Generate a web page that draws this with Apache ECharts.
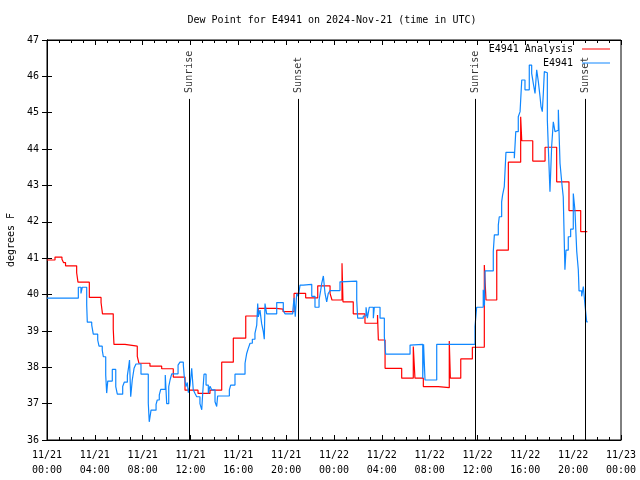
<!DOCTYPE html>
<html>
<head>
<meta charset="utf-8">
<script src="https://cdn.jsdelivr.net/npm/echarts@6/dist/echarts.min.js"></script>
<style>
html,body{margin:0;padding:0;background:#fff;}
#chart{width:640px;height:480px;}
</style>
</head>
<body>
<div id="chart"></div>
<script>
// Time in hours since 2024-11-21 00:00 UTC, value in degrees F
var analysisData = [
  [0.00,40.95],[0.67,41.03],[1.25,40.97],[1.38,40.88],[1.55,40.79],[2.48,40.6],[2.59,40.34],
  [3.54,39.92],[4.52,39.78],[4.64,39.47],[5.54,39.05],[5.60,38.63],[6.52,38.58],[7.55,38.3],
  [7.69,38.11],[8.61,38.03],[9.59,37.96],[10.56,37.73],[11.54,37.37],[12.63,37.28],[13.63,37.37],
  [14.61,38.14],[15.58,38.8],[16.62,39.41],[17.67,39.62],[19.15,39.6],[19.74,39.53],[20.66,40.03],
  [21.63,39.91],[22.64,40.24],[23.67,40.03],[23.83,39.85],[24.67,40.86],[24.75,39.8],[25.61,39.47],
  [26.59,39.21],[27.64,39.44],[27.71,38.75],[28.27,37.97],[29.66,37.7],[30.63,38.57],[30.77,37.7],
  [31.47,37.47],[32.72,37.44],[33.64,38.72],[33.73,37.7],[34.60,38.23],[35.57,38.55],[36.57,40.81],
  [36.71,39.85],[37.61,41.22],[38.58,43.64],[39.61,44.89],[39.70,44.23],[40.62,43.67],[41.65,44.05],
  [42.62,43.1],[43.65,42.31],[44.63,41.73],[45.18,41.73]
];
var stationData = [
  [0.00,39.9],[2.62,40.2],[2.84,40.03],[2.95,40.2],[3.32,39.71],[3.37,39.24],[3.74,39.16],[3.87,38.91],
  [4.24,38.75],[4.35,38.58],[4.62,38.47],[4.71,38.29],[4.91,37.79],[4.99,37.29],[5.08,37.62],[5.46,37.94],
  [5.75,37.47],[5.88,37.26],[6.33,37.47],[6.46,37.59],[6.72,37.77],[6.83,38.02],[6.90,38.2],[7.00,37.19],
  [7.13,37.65],[7.28,37.97],[7.44,38.09],[7.86,37.81],[8.47,37.01],[8.55,36.5],[8.70,36.82],[9.12,36.98],
  [9.22,37.1],[9.39,37.24],[9.51,37.39],[9.89,37.79],[10.01,37.0],[10.18,37.47],[10.29,37.65],[10.43,37.82],
  [10.96,38.06],[11.12,38.14],[11.40,38.06],[11.48,37.74],[11.62,37.47],[11.73,37.58],[11.82,37.3],
  [11.96,37.5],[12.10,37.97],[12.23,37.38],[12.38,37.28],[12.52,37.19],[12.79,37.0],[12.94,36.83],
  [13.02,37.28],[13.13,37.81],[13.30,37.51],[13.49,37.28],[13.63,37.48],[13.77,37.38],[14.05,37.05],
  [14.19,36.92],[14.27,37.21],[15.25,37.38],[15.36,37.51],[15.72,37.81],[16.56,38.11],[16.70,38.38],
  [16.83,38.52],[16.98,38.66],[17.17,38.77],[17.39,38.93],[17.54,39.16],[17.62,39.75],[17.67,39.39],
  [17.81,39.57],[17.95,39.2],[18.09,38.98],[18.17,38.77],[18.23,39.75],[18.37,39.47],[19.21,39.78],
  [19.76,39.57],[19.90,39.47],[20.55,39.53],[20.66,39.91],[20.76,39.39],[20.88,40.03],[21.02,39.95],
  [21.16,40.26],[21.43,40.28],[22.14,39.95],[22.41,39.65],[22.75,39.85],[22.89,40.12],[22.97,40.3],
  [23.11,40.51],[23.25,40.03],[23.39,39.8],[23.52,40.03],[23.67,40.11],[24.50,40.35],[24.64,40.37],
  [25.90,39.85],[25.98,39.35],[26.45,39.41],[26.68,39.65],[26.79,39.35],[26.95,39.65],[27.29,39.35],
  [27.37,39.65],[27.85,39.35],[28.21,38.84],[28.32,38.36],[30.36,38.61],[30.44,38.63],[31.42,37.7],
  [31.49,38.63],[31.61,37.65],[32.59,38.63],[35.79,39.12],[35.93,39.65],[36.48,40.13],[36.58,39.7],
  [36.63,40.65],[37.32,41.18],[37.41,41.64],[37.74,41.91],[37.82,42.14],[38.02,42.55],[38.10,42.74],
  [38.24,42.97],[38.38,43.91],[39.08,43.75],[39.20,44.48],[39.41,44.89],[39.56,45.03],[39.70,45.9],
  [39.97,45.63],[40.33,46.31],[40.53,46.08],[40.67,45.8],[40.81,45.53],[40.95,46.18],[41.09,45.85],
  [41.23,45.44],[41.31,45.17],[41.42,45.03],[41.50,45.5],[41.59,46.13],[41.70,46.1],[41.84,44.8],
  [41.92,44.07],[42.06,42.83],[42.20,44.07],[42.34,44.75],[42.48,44.48],[42.62,44.52],[42.76,45.08],
  [42.90,43.61],[43.04,43.1],[43.17,42.69],[43.31,40.68],[43.40,41.22],[43.59,41.59],[43.79,41.8],
  [44.01,42.78],[44.15,42.31],[44.30,41.18],[44.43,40.68],[44.49,40.1],[44.71,39.95],[44.85,40.22],
  [44.99,39.71],[45.13,39.25],[45.22,39.25]
];
var sunEvents = [[11.87,'Sunrise'],[20.99,'Sunset'],[35.83,'Sunrise'],[45.03,'Sunset']];
var sunLineTop = 45.38;
var xTickLabels = ['11/21\n00:00','11/21\n04:00','11/21\n08:00','11/21\n12:00','11/21\n16:00','11/21\n20:00',
  '11/22\n00:00','11/22\n04:00','11/22\n08:00','11/22\n12:00','11/22\n16:00','11/22\n20:00','11/23\n00:00'];
var seriesNames = ['E4941 Analysis','E4941'];
var titleText = 'Dew Point for E4941 on 2024-Nov-21 (time in UTC)';
var yName = 'degrees F';

var FONT = 'DejaVu Sans Mono';
var chart = echarts.init(document.getElementById('chart'), null, {renderer:'canvas'});

var sunLines = sunEvents.map(function(e){ return [{coord:[e[0],36]},{coord:[e[0],sunLineTop]}]; });
var sunLabels = sunEvents.map(function(e){ return {value:[e[0],sunLineTop], name:e[1]}; });

var axisCommon = {
  axisLine:{show:true,lineStyle:{color:'#000',width:1}},
  splitLine:{show:false}
};

var option = {
  backgroundColor:'#fff',
  animation:false,
  title:{
    text:titleText, left:327, top:10, textAlign:'center',
    textStyle:{fontFamily:FONT,fontSize:10,fontWeight:'normal',color:'#000'}
  },
  legend:[
    {data:[seriesNames[0]], right:25, top:39, orient:'vertical', align:'right', icon:'rect',
     itemWidth:28, itemHeight:1, itemGap:4,
     textStyle:{fontFamily:FONT,fontSize:10,color:'#000',padding:[0,4,0,0]}},
    {data:[seriesNames[1]], right:25, top:53, orient:'vertical', align:'right', icon:'rect',
     itemWidth:28, itemHeight:1, itemGap:4,
     textStyle:{fontFamily:FONT,fontSize:10,color:'#000',padding:[0,4,0,0]}}
  ],
  grid:{left:47,right:19,top:40,bottom:40,show:true,borderColor:'#000',borderWidth:1,
    containLabel:false,outerBoundsMode:'none'},
  xAxis:[
    Object.assign({type:'value',min:0,max:48,interval:4,position:'bottom',
      axisTick:{show:true,inside:true,length:5,lineStyle:{color:'#000'}},
      minorTick:{show:true,splitNumber:4,length:3,lineStyle:{color:'#000'}},
      axisLabel:{fontFamily:FONT,fontSize:10,color:'#000',lineHeight:15,margin:8,
        formatter:function(v){ return xTickLabels[Math.round(v/4)] || ''; }}
    },axisCommon),
    Object.assign({type:'value',min:0,max:48,interval:4,position:'top',
      axisTick:{show:true,inside:true,length:5,lineStyle:{color:'#000'}},
      minorTick:{show:true,splitNumber:4,length:3,lineStyle:{color:'#000'}},
      axisLabel:{show:false}
    },axisCommon)
  ],
  yAxis:[
    Object.assign({type:'value',min:36,max:47,interval:1,position:'left',
      name:yName,nameLocation:'middle',nameGap:31,
      nameTextStyle:{fontFamily:FONT,fontSize:10,color:'#000'},
      axisTick:{show:true,inside:true,length:5,lineStyle:{color:'#000'}},
      axisLabel:{fontFamily:FONT,fontSize:10,color:'#000',margin:8}
    },axisCommon),
    Object.assign({type:'value',min:36,max:47,interval:1,position:'right',
      axisTick:{show:true,inside:true,length:5,lineStyle:{color:'#000'}},
      axisLabel:{show:false}
    },axisCommon)
  ],
  series:[
    {name:seriesNames[0], type:'line', step:'end', data:analysisData, showSymbol:false, symbol:'none',
     color:'#ff0000', lineStyle:{color:'#ff0000',width:1.2}, z:3,
     markLine:{silent:true,symbol:'none',label:{show:false},lineStyle:{color:'#000',width:1,type:'solid'},data:sunLines}
    },
    {name:seriesNames[1], type:'line', step:'end', data:stationData, showSymbol:false, symbol:'none',
     color:'#0f87ff', lineStyle:{color:'#0f87ff',width:1.2}, z:4},
    {name:'sun', type:'scatter', data:sunLabels, symbolSize:0, silent:true,
     label:{show:true, position:'top', distance:6, rotate:90, align:'left', verticalAlign:'middle',
       formatter:function(p){return p.name;}, fontFamily:FONT, fontSize:10, color:'#000'}}
  ]
};
chart.setOption(option);
</script>
</body>
</html>
